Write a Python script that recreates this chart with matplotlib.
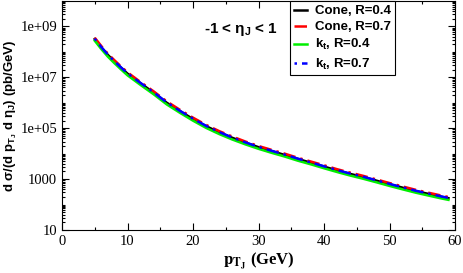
import matplotlib
matplotlib.use("Agg")
import matplotlib.pyplot as plt
from matplotlib.ticker import FixedLocator, MultipleLocator, NullFormatter

plt.rcParams['mathtext.fontset'] = 'custom'
plt.rcParams['mathtext.rm'] = 'Liberation Sans:bold'
plt.rcParams['mathtext.bf'] = 'Liberation Sans:bold'
plt.rcParams['mathtext.it'] = 'Liberation Sans:bold'

pt = [5, 6, 7, 8, 9, 10, 12, 14, 16, 18, 20, 22, 24, 26, 28, 30, 32, 34, 36, 38,
      40, 42, 44, 46, 48, 50, 52, 54, 56, 58, 59]

cone_r04 = [3.2e8, 1.5e8, 7.6e7, 4.2e7, 2.4e7, 1.4e7, 5.8e6, 2.5e6, 1.0e6, 4.7e5,
            2.3e5, 1.2e5, 6.9e4, 4.2e4, 2.7e4, 1.8e4, 1.26e4, 8.9e3, 6.2e3, 4.4e3,
            3.1e3, 2.2e3, 1.6e3, 1.2e3, 870, 630, 460, 340, 260, 200, 178]
cone_r07 = [3.6e8, 1.7e8, 8.5e7, 4.7e7, 2.7e7, 1.57e7, 6.5e6, 2.8e6, 1.13e6, 5.3e5,
            2.6e5, 1.35e5, 7.7e4, 4.7e4, 3.0e4, 2.0e4, 1.41e4, 1.0e4, 6.9e3, 4.9e3,
            3.5e3, 2.45e3, 1.8e3, 1.34e3, 970, 700, 515, 380, 290, 224, 198]
kt_r04 = [2.75e8, 1.29e8, 6.5e7, 3.6e7, 2.06e7, 1.2e7, 5.0e6, 2.15e6, 8.6e5, 4.05e5,
          1.98e5, 1.03e5, 5.9e4, 3.6e4, 2.32e4, 1.55e4, 1.08e4, 7.7e3, 5.3e3, 3.8e3,
          2.67e3, 1.9e3, 1.38e3, 1.03e3, 750, 540, 396, 293, 224, 172, 153]
kt_r07 = [3.3e8, 1.55e8, 7.8e7, 4.3e7, 2.47e7, 1.44e7, 6.0e6, 2.58e6, 1.03e6, 4.85e5,
          2.37e5, 1.24e5, 7.1e4, 4.3e4, 2.78e4, 1.85e4, 1.3e4, 9.2e3, 6.4e3, 4.5e3,
          3.2e3, 2.27e3, 1.65e3, 1.24e3, 895, 650, 474, 350, 268, 206, 183]

labels = ["Cone, R=0.4", "Cone, R=0.7", r"k$_\mathregular{t}$, R=0.4", r"k$_\mathregular{t}$, R=0.7"]
ytick_vals = [10, 1e3, 1e5, 1e7, 1e9]
ytick_labels = ["10", "1000", "1e+05", "1e+07", "1e+09"]
xtick_vals = [0, 10, 20, 30, 40, 50, 60]

fig = plt.figure(figsize=(4.63, 2.73), dpi=100)
ax = fig.add_axes([62/463, 1 - 230/273, 393/463, 229/273])

ax.plot(pt, cone_r04, color='black', lw=1.8, label=labels[0])
ax.plot(pt, cone_r07, color='red', lw=1.8, dashes=(5, 2, 1, 2), label=labels[1])
ax.plot(pt, kt_r04, color='#00ee00', lw=1.8, label=labels[2])
ax.plot(pt, kt_r07, color='blue', lw=1.8, dashes=(1, 2, 5, 2), label=labels[3])

ax.set_yscale('log')
ax.set_xlim(0, 60)
ax.set_ylim(10, 1e10)

ax.set_yticks(ytick_vals)
ax.set_yticklabels(ytick_labels)
ax.yaxis.set_minor_locator(FixedLocator(
    [m * 10**e for e in range(1, 10) for m in range(2, 10)] + [1e2, 1e4, 1e6, 1e8]))
ax.yaxis.set_minor_formatter(NullFormatter())
ax.set_xticks(xtick_vals)
ax.xaxis.set_minor_locator(MultipleLocator(5))

ax.tick_params(which='both', direction='in', top=True, right=True, width=0.8)
ax.tick_params(which='major', length=5)
ax.tick_params(which='minor', length=2.5)
for lab in ax.get_xticklabels() + ax.get_yticklabels():
    lab.set_fontfamily('Liberation Serif')
    lab.set_fontsize(10.5)

ax.set_xlabel(r'$\mathbf{p_{T_J}}$ (GeV)', fontfamily='Liberation Serif',
              fontweight='bold', fontsize=12, math_fontfamily='stix', labelpad=2)
ax.set_ylabel(r'd $\sigma$/(d p$_{\mathregular{T}_\mathregular{J}}$ d $\eta_\mathregular{J}$) (pb/GeV)',
              fontfamily='Liberation Sans', fontweight='bold', fontsize=9.5)
ax.yaxis.set_label_coords(-0.11, 0.5)

ax.text(0.362, 0.862, r'-1 < $\eta_\mathregular{J}$ < 1', transform=ax.transAxes,
        fontfamily='Liberation Sans', fontweight='bold', fontsize=11)

leg = ax.legend(loc='upper right', bbox_to_anchor=(0.847, 1.0), borderaxespad=0,
                fancybox=False, edgecolor='black', framealpha=1,
                prop={'family': 'Liberation Sans', 'weight': 'bold', 'size': 9.5},
                handlelength=1.0, handletextpad=0.6, labelspacing=0.3,
                borderpad=0.3)
leg.get_frame().set_linewidth(0.8)

fig.savefig('out.png', dpi=100)
